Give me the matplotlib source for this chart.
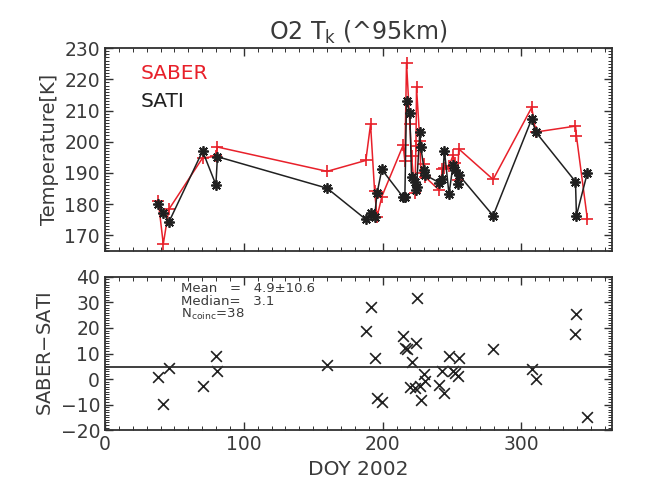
import matplotlib
matplotlib.use("Agg")
import matplotlib.pyplot as plt
from matplotlib.ticker import MultipleLocator

# day of year of each coincidence
doy = [38.4, 42.0, 46.0, 70.3, 79.9, 81.0, 160.0, 187.9, 191.3, 194.2, 196.0,
       199.4, 214.8, 216.0, 217.2, 219.6, 220.8, 223.2, 224.0, 224.4, 226.8,
       227.5, 229.9, 230.4, 240.7, 243.1, 244.5, 247.8, 250.7, 252.2, 254.0,
       254.8, 279.6, 307.4, 310.3, 338.9, 339.6, 347.5]

sati = [180.0, 177.3, 174.2, 197.0, 186.2, 195.2, 185.1, 175.1, 177.0, 176.0,
        183.5, 191.1, 182.2, 182.2, 213.1, 209.1, 188.8, 187.2, 184.6, 185.6,
        203.0, 198.3, 190.9, 189.4, 186.9, 188.0, 197.1, 183.2, 192.5, 190.9,
        186.5, 189.4, 176.3, 207.3, 203.1, 187.2, 176.3, 190.1]

saber = [180.9, 167.2, 178.3, 194.8, 195.3, 198.3, 190.5, 194.0, 205.6, 184.2,
         175.9, 182.4, 198.9, 193.8, 225.3, 205.8, 195.5, 183.7, 198.7, 217.4,
         200.3, 190.1, 192.9, 188.8, 184.5, 191.2, 191.6, 192.2, 195.6, 193.1,
         187.8, 197.7, 187.9, 211.0, 203.1, 205.0, 201.8, 175.1]

diff = [0.9, -9.9, 4.2, -2.6, 9.0, 3.0, 5.5, 18.8, 28.3, 8.2, -7.5, -8.8, 16.8,
        12.0, 11.6, -3.2, 6.5, -3.6, 14.2, 31.8, -2.7, -8.2, 2.0, -0.6, -2.3,
        3.1, -5.5, 9.0, 3.1, 2.2, 1.3, 8.4, 11.7, 3.9, 0.0, 17.8, 25.6, -15.0]

mean_diff = 4.9

txt = '#3a3a3a'
red = '#e8202a'
plt.rcParams['font.family'] = ['DejaVu Sans']
plt.rcParams['text.color'] = txt
plt.rcParams['axes.edgecolor'] = '#303030'
plt.rcParams['xtick.color'] = '#303030'
plt.rcParams['ytick.color'] = '#303030'
plt.rcParams['xtick.labelcolor'] = txt
plt.rcParams['ytick.labelcolor'] = txt

fig = plt.figure(figsize=(6.48, 4.91), dpi=100)
ax1 = fig.add_axes([0.162, 0.489, 0.782, 0.413])
ax2 = fig.add_axes([0.162, 0.124, 0.782, 0.312])

for ax in (ax1, ax2):
    ax.set_xlim(0, 365)
    ax.xaxis.set_major_locator(MultipleLocator(100))
    ax.xaxis.set_minor_locator(MultipleLocator(10))
    ax.yaxis.set_major_locator(MultipleLocator(10))
    ax.yaxis.set_minor_locator(MultipleLocator(1))
    ax.tick_params(which='both', direction='in', top=True, right=True)
    ax.tick_params(which='major', length=6, width=1.0, labelsize=13.5)
    ax.tick_params(which='minor', length=3, width=0.7)
    for s in ax.spines.values():
        s.set_linewidth(1.3)

# top panel: temperatures
ax1.plot(doy, saber, color=red, lw=1.1, marker='+', ms=9, mew=1.2)
ax1.plot(doy, sati, color='#202020', lw=1.1, marker=(8, 2, 0), ms=7.5, mew=1.3)
ax1.set_ylim(165, 230)
ax1.tick_params(labelbottom=False)
ax1.set_ylabel('Temperature[K]', fontsize=14, color=txt)
ax1.set_title('O2 T$_{\\rm k}$ (^95km)', fontsize=17, color=txt, pad=6)
ax1.text(0.07, 0.85, 'SABER', color=red, fontsize=14.5, transform=ax1.transAxes)
ax1.text(0.07, 0.71, 'SATI', color='#202020', fontsize=14.5, transform=ax1.transAxes)

# bottom panel: differences
ax2.scatter(doy, diff, marker='x', s=60, color='#202020', linewidths=1.2)
ax2.axhline(mean_diff, color='#303030', lw=1.3)
ax2.set_ylim(-20, 40)
ax2.set_ylabel('SABER$-$SATI', fontsize=14, color=txt)
ax2.set_xlabel('DOY 2002', fontsize=14.5, color=txt)
ax2.text(0.15, 0.90, 'Mean   =   4.9\u00b110.6', fontsize=9.5, transform=ax2.transAxes)
ax2.text(0.15, 0.815, 'Median=   3.1', fontsize=9.5, transform=ax2.transAxes)
ax2.text(0.15, 0.73, 'N$_{\\rm coinc}$=38', fontsize=9.5, transform=ax2.transAxes)

fig.savefig('out.png', dpi=100)
